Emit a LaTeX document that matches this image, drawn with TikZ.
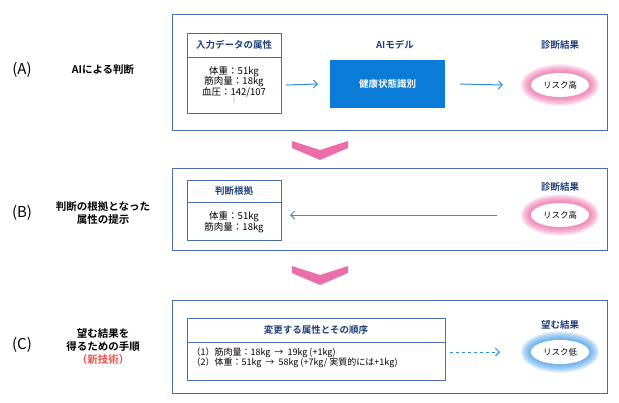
\documentclass[tikz,border=0pt]{standalone}
\usepackage{fontspec}
\setmainfont{Noto Sans CJK JP}
\newfontfamily\jpb{Noto Sans CJK JP Bold}
\newfontfamily\dv{DejaVu Sans}
\usetikzlibrary{arrows.meta,shapes.geometric}
\definecolor{frame}{HTML}{4A6DB0}
\definecolor{navy}{HTML}{1F3D7A}
\definecolor{mblue}{HTML}{0B7BD8}
\definecolor{arr}{HTML}{2E8FE0}
\definecolor{pinkc}{HTML}{E8559B}
\definecolor{redt}{HTML}{F0504A}
\tikzset{
 outer/.style={draw=frame,line width=0.8pt},
 inner/.style={draw=frame,line width=0.8pt},
 head/.style={font=\jpb\fontsize{9.5}{11}\selectfont,text=navy},
 body/.style={font=\fontsize{9.5}{10.5}\selectfont,align=center},
 lab/.style={font=\jpb\fontsize{10.5}{13}\selectfont,align=center},
 par/.style={font=\fontsize{15}{16}\selectfont},
 link/.style={draw=arr,line width=1pt,-{Straight Barb[length=4pt]}},
 res/.style={ellipse,fill=white,minimum width=58pt,minimum height=24pt,inner sep=0pt,font=\fontsize{8.5}{9}\selectfont},
 chev/.style={fill=pinkc!85}
}
\newcommand{\glow}[3]{%
 \foreach \k in {1,...,8}{\fill[#3,opacity=0.13] (#1,#2) ellipse ({29pt+(9-\k)*1.3pt} and {12pt+(9-\k)*1.1pt});}}
\begin{document}
\begin{tikzpicture}[x=1pt,y=-1pt]
\useasboundingbox (0,0) rectangle (619,402);
% left labels
\node[par] (pa) at (22,70) {(A)};
\node[lab] (la) at (103,70) {AIによる判断};
\node[par] (pb) at (22,213) {(B)};
\node[lab] (lb) at (103,213) {判断の根拠となった\\属性の提示};
\node[par] (pc) at (22,345) {(C)};
\node[lab] (lc) at (103,347) {望む結果を\\得るための手順\\\textcolor{redt}{（新技術）}};
% box A
\draw[outer] (172,14) rectangle (607,130);
\draw[inner] (187,33) rectangle (281,113);
\draw[inner] (187,57) -- (281,57);
\node[head] (ha) at (234,45) {入力データの属性};
\node[body] (ba) at (234,85) {体重：51kg\\筋肉量：18kg\\血圧：142/107\\[-3pt]{\dv\fontsize{6}{6}\selectfont ⋮}};
\node[head] (ma) at (395,45) {AIモデル};
\node[fill=mblue,minimum width=115pt,minimum height=48pt,text=white,font=\jpb\fontsize{9.5}{11}\selectfont] (model) at (387.5,84) {健康状態識別};
\node[head] (ra) at (560,45) {診断結果};
\glow{560}{85}{pinkc}
\node[res] (resa) at (560,85) {リスク高};
\draw[link] (286,85) -- (model.west-|318,85);
\draw[link] (model.east) ++(15,0) -- (503,85);
% chevrons
\fill[chev] (292,141) -- (320,150) -- (348,141) -- (348,148) -- (320,160) -- (292,148) -- cycle;
\fill[chev] (292,266) -- (320,275) -- (348,266) -- (348,273) -- (320,285) -- (292,273) -- cycle;
% box B
\draw[outer] (172,168) rectangle (607,250);
\draw[inner] (187,180) rectangle (281,240);
\draw[inner] (187,202) -- (281,202);
\node[head] (hb) at (234,191) {判断根拠};
\node[body] (bb) at (234,222) {体重：51kg\\筋肉量：18kg};
\node[head] (rb) at (560,187) {診断結果};
\glow{560}{215}{pinkc}
\node[res] (resb) at (560,215) {リスク高};
\draw[link] (497,215) -- (290,215);
% box C
\draw[outer] (172,300) rectangle (607,393);
\draw[inner] (187,318) rectangle (445,380);
\draw[inner] (187,342) -- (445,342);
\node[head] (hc) at (316,330) {変更する属性とその順序};
\node[font=\fontsize{9}{10}\selectfont,align=left,anchor=west] (bc) at (188,358) {（1）筋肉量：18kg \ → \ 19kg (+1kg)\\（2）体重：51kg \ → \ 58kg (+7kg/ 実質的には+1kg)};
\node[head] (rc) at (560,325) {望む結果};
\glow{560}{352}{arr}
\node[res] (resc) at (560,352) {リスク低};
\draw[link,dashed] (450,352) -- (500,352);
\end{tikzpicture}
\end{document}
